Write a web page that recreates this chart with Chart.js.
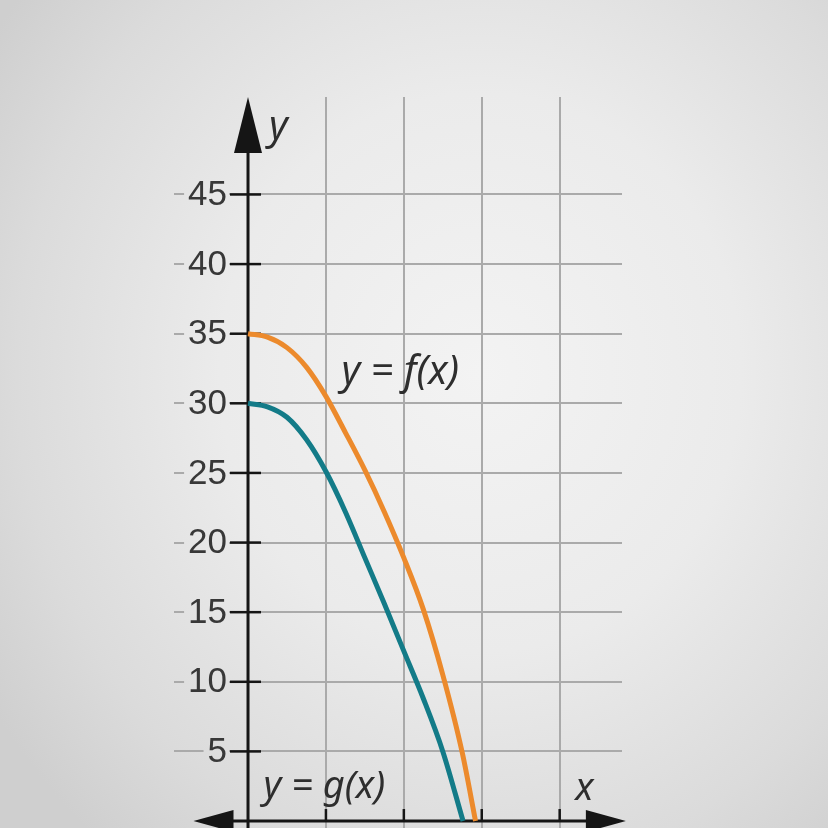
<!DOCTYPE html>
<html>
<head>
<meta charset="utf-8">
<script src="https://cdn.jsdelivr.net/npm/chart.js@4.4.1/dist/chart.umd.min.js"></script>
<style>
  html, body { margin: 0; padding: 0; }
  body {
    width: 828px; height: 828px; overflow: hidden;
    background: radial-gradient(ellipse 70% 75% at 58% 45%, #f3f3f3 0%, #ebebeb 45%, #dbdbdb 80%, #cfcfcf 100%);
  }
  canvas { display: block; }
</style>
</head>
<body>
<canvas id="graph" width="828" height="828"></canvas>
<script>
// grid / tick positions
var xGrid = [1, 2, 3, 4];
var yTicks = [5, 10, 15, 20, 25, 30, 35, 40, 45];

// y = f(x)
var fX = [0, 0.25, 0.5, 0.75, 1.0, 1.25, 1.5, 1.75, 2.0, 2.25, 2.5, 2.75, 2.92];
var fY = [35, 34.75, 34.0, 32.6, 30.5, 27.9, 25.2, 22.2, 18.9, 15.2, 10.5, 4.9, 0];

// y = g(x)
var gX = [0, 0.25, 0.5, 0.75, 1.0, 1.25, 1.5, 1.75, 2.0, 2.25, 2.5, 2.76];
var gY = [30, 29.75, 29.0, 27.4, 25.1, 22.2, 18.9, 15.6, 12.2, 8.8, 5.0, 0];

function toPoints(xs, ys) {
	var pts = [];
	for (var i = 0; i < xs.length; i++) {
		pts.push({ x: xs[i], y: ys[i] });
	}
	return pts;
}

function arrow(ctx, tx, ty, dx, dy, len, half) {
	var bx = tx - dx * len, by = ty - dy * len;
	ctx.beginPath();
	ctx.moveTo(tx, ty);
	ctx.lineTo(bx - dy * half, by + dx * half);
	ctx.lineTo(bx + dy * half, by - dx * half);
	ctx.closePath();
	ctx.fill();
}

// axes with arrows, crossing ticks, tick labels, curve names
var axesPlugin = {
	id: 'axes',
	beforeDatasetsDraw: function(chart) {
		var ctx = chart.ctx;
		var x = chart.scales.x, y = chart.scales.y;
		var x0 = x.getPixelForValue(0);
		var y0 = y.getPixelForValue(0);
		ctx.save();

		// tick labels sit over the gridlines
		ctx.font = '35px "Liberation Sans", Arial, sans-serif';
		ctx.textAlign = 'right';
		ctx.textBaseline = 'middle';
		yTicks.forEach(function(v) {
			var py = y.getPixelForValue(v);
			var w = ctx.measureText(String(v)).width;
			ctx.globalCompositeOperation = 'destination-out';
			ctx.fillRect(x0 - 21 - w - 4, py - 5, w + 6, 10);
			ctx.globalCompositeOperation = 'source-over';
			ctx.fillStyle = '#383838';
			ctx.fillText(String(v), x0 - 21, py + 1);
		});

		ctx.strokeStyle = '#151515';
		ctx.fillStyle = '#151515';

		// y axis
		var yTop = y.getPixelForValue(52);
		ctx.lineWidth = 3;
		ctx.beginPath();
		ctx.moveTo(x0, chart.height);
		ctx.lineTo(x0, yTop + 40);
		ctx.stroke();
		arrow(ctx, x0, yTop, 0, -1, 56, 14);

		// x axis
		var xl = x.getPixelForValue(-0.7), xr = x.getPixelForValue(4.85);
		ctx.beginPath();
		ctx.moveTo(xl + 30, y0);
		ctx.lineTo(xr - 30, y0);
		ctx.stroke();
		arrow(ctx, xr, y0, 1, 0, 40, 11);
		arrow(ctx, xl, y0, -1, 0, 40, 11);

		// ticks
		ctx.lineWidth = 2.5;
		yTicks.forEach(function(v) {
			var py = y.getPixelForValue(v);
			ctx.beginPath();
			ctx.moveTo(x0 - 18, py);
			ctx.lineTo(x0 + 13, py);
			ctx.stroke();
		});
		xGrid.forEach(function(v) {
			var px = x.getPixelForValue(v);
			ctx.beginPath();
			ctx.moveTo(px, y0);
			ctx.lineTo(px, y0 - 12);
			ctx.stroke();
		});
		ctx.restore();
	},
	afterDatasetsDraw: function(chart) {
		var ctx = chart.ctx;
		var x = chart.scales.x, y = chart.scales.y;
		ctx.save();
		ctx.fillStyle = '#2e2e2e';
		ctx.textAlign = 'left';
		ctx.textBaseline = 'middle';
		ctx.font = 'italic 40px "Noto Sans", sans-serif';
		ctx.fillText('y = f(x)', x.getPixelForValue(1.2), y.getPixelForValue(32.2));
		ctx.fillText('y', x.getPixelForValue(0.27), y.getPixelForValue(49.8));
		ctx.font = 'italic 38px "Noto Sans", sans-serif';
		ctx.fillText('y = g(x)', x.getPixelForValue(0.2), y.getPixelForValue(2.4));
		ctx.fillText('x', x.getPixelForValue(4.2), y.getPixelForValue(2.3));
		ctx.restore();
	}
};

var ctx = document.getElementById('graph').getContext('2d');
var chart = new Chart(ctx, {
	type: 'scatter',
	data: {
		datasets: [{
			label: 'f',
			data: toPoints(fX, fY),
			showLine: true,
			borderColor: '#ec8a2c',
			borderWidth: 5,
			pointRadius: 0,
			cubicInterpolationMode: 'monotone'
		}, {
			label: 'g',
			data: toPoints(gX, gY),
			showLine: true,
			borderColor: '#137b88',
			borderWidth: 5,
			pointRadius: 0,
			cubicInterpolationMode: 'monotone'
		}]
	},
	options: {
		responsive: false,
		animation: false,
		events: [],
		layout: { padding: { left: 174, right: 206, top: 97, bottom: 0 } },
		plugins: {
			legend: { display: false },
			tooltip: { enabled: false }
		},
		scales: {
			x: {
				type: 'linear',
				min: -0.95,
				max: 4.8,
				afterBuildTicks: function(s) {
					s.ticks = xGrid.map(function(v) { return { value: v }; });
				},
				afterFit: function(s) { s.height = 0; },
				ticks: { display: false },
				border: { display: false },
				grid: { color: '#aaaaaa', lineWidth: 2, drawTicks: false }
			},
			y: {
				type: 'linear',
				min: -0.5,
				max: 52,
				afterBuildTicks: function(s) {
					s.ticks = yTicks.map(function(v) { return { value: v }; });
				},
				afterFit: function(s) { s.width = 0; },
				ticks: { display: false },
				border: { display: false },
				grid: { color: '#aaaaaa', lineWidth: 2, drawTicks: false }
			}
		}
	},
	plugins: [axesPlugin]
});
</script>
</body>
</html>
